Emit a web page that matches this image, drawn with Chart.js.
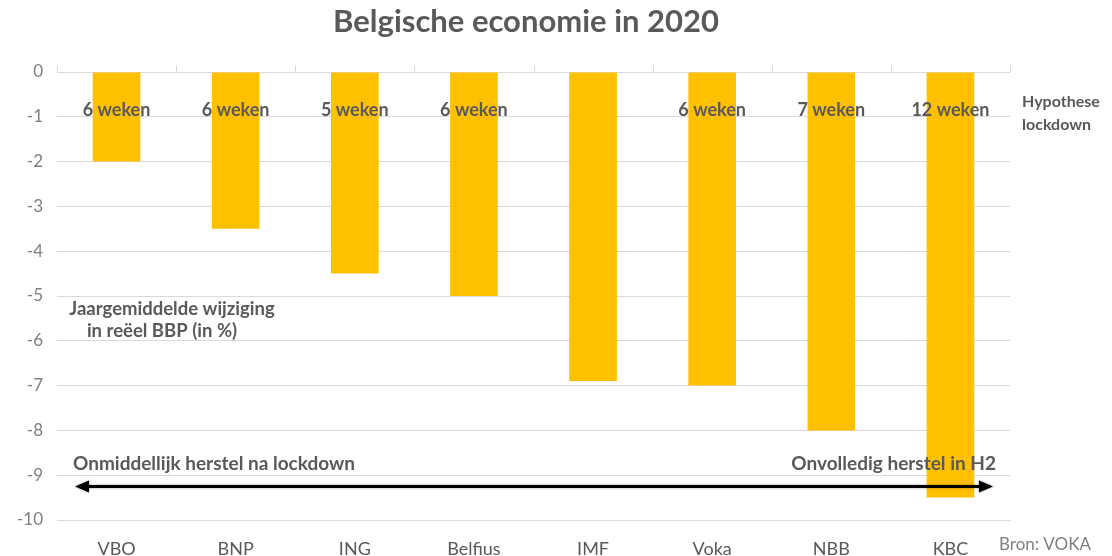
<!DOCTYPE html>
<html>
<head>
<meta charset="utf-8">
<script src="https://cdn.jsdelivr.net/npm/chart.js@4/dist/chart.umd.min.js"></script>
<style>
  html, body { margin: 0; padding: 0; background: #fff; }
  #wrap { width: 1112px; height: 556px; position: relative; }
</style>
</head>
<body>
<div id="wrap"><canvas id="bbpChart"></canvas></div>
<script>
// Data
const categories = ['VBO', 'BNP', 'ING', 'Belfius', 'IMF', 'Voka', 'NBB', 'KBC'];
const bbpChange = [-2, -3.5, -4.5, -5, -6.9, -7, -8, -9.5];
const lockdownWeeks = ['6 weken', '6 weken', '5 weken', '6 weken', '', '6 weken', '7 weken', '12 weken'];
const arrowLevel = -9.25;

const FONT = 'Lato, "Open Sans", sans-serif';
const DARK = '#595959';

// Extra text, arrow and top ticks
const annotations = {
  id: 'annotations',
  afterDraw(chart) {
    const ctx = chart.ctx;
    const x = chart.scales.x;
    const y = chart.scales.y;
    ctx.save();

    // small tick marks on the 0 line
    ctx.strokeStyle = '#d9d9d9';
    ctx.lineWidth = 1;
    for (let i = 0; i <= categories.length; i++) {
      const px = Math.round(x.getPixelForValue(i - 0.5)) + 0.5;
      ctx.beginPath();
      ctx.moveTo(px, y.top - 6);
      ctx.lineTo(px, y.top);
      ctx.stroke();
    }

    // title
    ctx.fillStyle = DARK;
    ctx.textAlign = 'center';
    ctx.textBaseline = 'middle';
    ctx.font = 'bold 31px ' + FONT;
    ctx.fillText('Belgische economie in 2020', 526, 22);

    // weeks labels
    ctx.font = 'bold 18px ' + FONT;
    lockdownWeeks.forEach((w, i) => {
      if (!w) return;
      ctx.fillText(w, x.getPixelForValue(i), y.getPixelForValue(-0.85));
    });

    ctx.font = 'bold 16px ' + FONT;
    ctx.textAlign = 'left';
    ctx.fillText('Hypothese', 1022, 102);
    ctx.fillText('lockdown', 1022, 125);

    ctx.font = 'bold 18.5px ' + FONT;
    ctx.textAlign = 'center';
    ctx.fillText('Jaargemiddelde wijziging', 172, 309);
    ctx.fillText('in reëel BBP (in %)', 162, 331);

    ctx.font = 'bold 19px ' + FONT;
    ctx.textAlign = 'left';
    ctx.fillText('Onmiddellijk herstel na lockdown', 73, 464);
    ctx.textAlign = 'right';
    ctx.fillText('Onvolledig herstel in H2', 996, 464);

    // source
    ctx.font = '17px ' + FONT;
    ctx.fillStyle = '#7f7f7f';
    ctx.textAlign = 'left';
    ctx.fillText('Bron: VOKA', 999, 545);

    // double arrow
    const ay = y.getPixelForValue(arrowLevel);
    const x1 = x.left + 18, x2 = x.right - 17;
    ctx.strokeStyle = '#000';
    ctx.fillStyle = '#000';
    ctx.lineWidth = 3;
    ctx.shadowColor = 'rgba(0,0,0,0.35)';
    ctx.shadowBlur = 3;
    ctx.beginPath();
    ctx.moveTo(x1 + 8, ay);
    ctx.lineTo(x2 - 8, ay);
    ctx.stroke();
    ctx.beginPath();
    ctx.moveTo(x1, ay);
    ctx.lineTo(x1 + 14, ay - 6);
    ctx.lineTo(x1 + 14, ay + 6);
    ctx.closePath();
    ctx.fill();
    ctx.beginPath();
    ctx.moveTo(x2, ay);
    ctx.lineTo(x2 - 14, ay - 6);
    ctx.lineTo(x2 - 14, ay + 6);
    ctx.closePath();
    ctx.fill();

    ctx.restore();
  }
};

new Chart(document.getElementById('bbpChart'), {
  type: 'bar',
  data: {
    labels: categories,
    datasets: [{
      data: bbpChange,
      backgroundColor: '#FFC000',
      categoryPercentage: 1,
      barPercentage: 0.4
    }]
  },
  options: {
    responsive: true,
    maintainAspectRatio: false,
    animation: false,
    layout: { padding: { left: 0, right: 102, top: 72, bottom: 0 } },
    plugins: {
      legend: { display: false },
      title: { display: false },
      tooltip: { enabled: false }
    },
    scales: {
      x: {
        grid: { display: false },
        border: { color: '#d9d9d9' },
        ticks: { color: DARK, font: { family: FONT, size: 18 }, padding: 10 },
        afterFit: s => { s.height = 36; }
      },
      y: {
        min: -10,
        max: 0,
        ticks: { stepSize: 1, color: '#7f7f7f', font: { family: FONT, size: 17 }, padding: 14 },
        grid: { color: '#d9d9d9', drawTicks: false },
        border: { display: false },
        afterFit: s => { s.width = 57; }
      }
    }
  },
  plugins: [annotations]
});
</script>
</body>
</html>
